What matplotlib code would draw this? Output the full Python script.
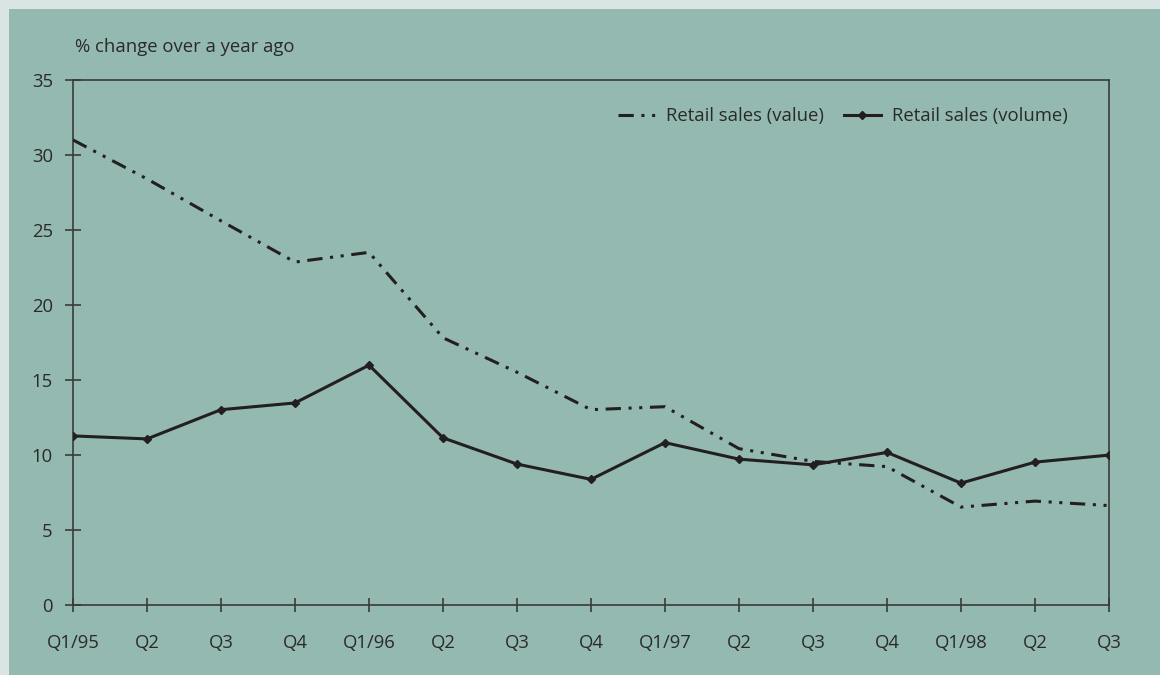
import matplotlib
matplotlib.use("Agg")
import matplotlib.pyplot as plt
from matplotlib.patches import Rectangle

# quarterly % change over a year ago
quarters = ["Q1/95", "Q2", "Q3", "Q4", "Q1/96", "Q2", "Q3", "Q4",
            "Q1/97", "Q2", "Q3", "Q4", "Q1/98", "Q2", "Q3"]
sales_value = [31.0, 28.4, 25.6, 22.85, 23.5, 17.8, 15.5, 13.0,
               13.2, 10.4, 9.55, 9.2, 6.5, 6.9, 6.6]
sales_volume = [11.25, 11.05, 13.0, 13.45, 15.97, 11.12, 9.37, 8.35,
                10.8, 9.7, 9.32, 10.15, 8.1, 9.5, 9.97]
yticks = [0, 5, 10, 15, 20, 25, 30, 35]

outer_bg = "#d8e5e2"
panel_bg = "#94b9b0"
ink = "#231f20"
axis_col = "#3a3a3a"
txt_col = "#2a2a2a"

plt.rcParams['font.family'] = ['Open Sans', 'DejaVu Sans']
fs = 13.3

fig = plt.figure(figsize=(11.6, 6.75), dpi=100)
fig.patch.set_facecolor(outer_bg)
fig.patches.append(Rectangle((9 / 1160, 0), 1, 1 - 9 / 675,
                             transform=fig.transFigure, facecolor=panel_bg,
                             edgecolor="none", zorder=-10))

ax = fig.add_axes([73 / 1160, 1 - 604.5 / 675, (1109 - 73) / 1160, (604.5 - 80) / 675])
ax.set_facecolor(panel_bg)

x = list(range(len(quarters)))
ax.plot(x, sales_value, color=ink, lw=2.2,
        linestyle=(0, (5, 2.5, 1, 2.5, 1, 2.5)),
        label="Retail sales (value)", zorder=3)
ax.plot(x, sales_volume, color=ink, lw=2.2, marker="D", markersize=4.5,
        label="Retail sales (volume)", zorder=4)

ax.set_xlim(0, len(quarters) - 1)
ax.set_ylim(0, 35)
ax.set_xticks(x)
ax.set_xticklabels(quarters)
ax.set_yticks(yticks)

for s in ax.spines.values():
    s.set_color(axis_col)
    s.set_linewidth(1.2)
ax.tick_params(axis="both", direction="inout", color=axis_col, width=1.2,
               labelsize=fs, labelcolor=txt_col)
ax.tick_params(axis="x", length=10, pad=16)
ax.tick_params(axis="y", length=11, pad=9)

fig.text(75 / 1160, 1 - 47 / 675, "% change over a year ago", fontsize=fs,
         color=txt_col, ha="left", va="center")

leg = ax.legend(loc="upper right", bbox_to_anchor=(1.0 - 34 / 1036, 1.0 - 20 / 524.5),
                ncol=2, frameon=False, fontsize=fs, handlelength=2.0,
                columnspacing=1.1, handletextpad=0.6, borderaxespad=0)
for t in leg.get_texts():
    t.set_color(txt_col)

fig.savefig("out.png", dpi=100, facecolor=fig.get_facecolor())
